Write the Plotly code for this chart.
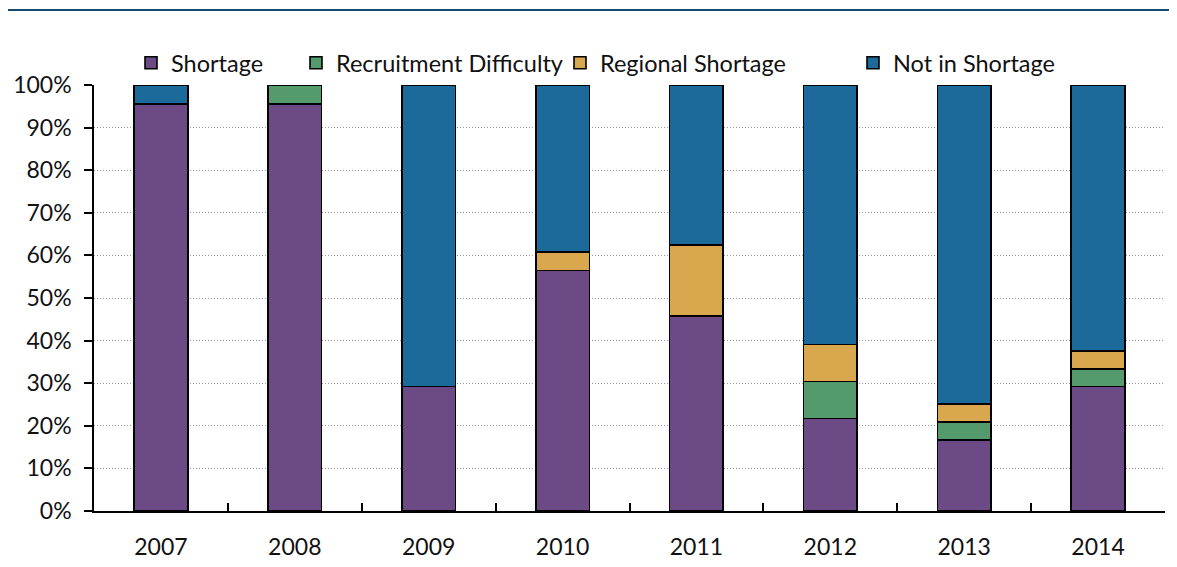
import plotly.graph_objects as go

years = ["2007", "2008", "2009", "2010", "2011", "2012", "2013", "2014"]
shortage = [95.5, 95.5, 29.2, 56.5, 45.8, 21.7, 16.7, 29.2]
recruitment = [0.0, 4.5, 0.0, 0.0, 0.0, 8.7, 4.2, 4.2]
regional = [0.0, 0.0, 0.0, 4.3, 16.7, 8.7, 4.2, 4.2]
not_short = [4.5, 0.0, 70.8, 39.2, 37.5, 60.9, 74.9, 62.4]

series_names = ["Shortage", "Recruitment Difficulty", "Regional Shortage", "Not in Shortage"]
series_values = [shortage, recruitment, regional, not_short]
series_colors = ["#6B4A85", "#549A6C", "#D9A84E", "#1B6A9A"]

# page body has an 8px margin, so the figure is sized to fit the window
W, H = 1169, 559
L, R, T, B = 86, 12, 77, 56
ph = H - T - B
pw = W - L - R

legend_ids = ["legend", "legend2", "legend3", "legend4"]
legend_left_px = [123, 288, 552, 845]

fig = go.Figure()
for name, vals, col, lid in zip(series_names, series_values, series_colors, legend_ids):
    fig.add_trace(go.Bar(
        x=years, y=[v / 100 for v in vals], name=name, legend=lid,
        marker=dict(color=col, line=dict(color="#000000", width=1.6)),
    ))

legend_y = (H - B - 55) / ph
legend_kw = {}
for lid, lx in zip(legend_ids, legend_left_px):
    legend_kw[lid] = dict(orientation="h", x=(lx - L) / pw, xanchor="left",
                          y=legend_y, yanchor="middle", font=dict(size=23.5, color="#111111"),
                          itemwidth=30, bgcolor="rgba(0,0,0,0)", borderwidth=0)

fig.update_layout(
    width=W, height=H,
    barmode="stack", bargap=0.6,
    margin=dict(l=L, r=R, t=T, b=B, autoexpand=False),
    plot_bgcolor="white", paper_bgcolor="white",
    font=dict(family="Lato, Open Sans, sans-serif", size=23, color="#111111"),
    showlegend=True,
    xaxis=dict(type="category", showline=True, linecolor="#000000", linewidth=1.5,
               ticks="inside", tickson="boundaries", ticklen=8, tickcolor="#000000",
               tickwidth=1.5, showgrid=False, tickfont=dict(size=23),
               ticklabelstandoff=15, automargin=False),
    yaxis=dict(range=[0, 1], tickformat=".0%", dtick=0.1, showline=True,
               linecolor="#000000", linewidth=1.5, ticks="outside", ticklen=8,
               tickcolor="#000000", tickwidth=1.5, showgrid=True, gridcolor="#9A9A9A",
               griddash="1px,2px", gridwidth=1, zeroline=False, tickfont=dict(size=23),
               ticklabelstandoff=8, automargin=False),
    shapes=[dict(type="line", xref="paper", yref="paper",
                 x0=-L / pw, x1=(W - L) / pw,
                 y0=(H - B - 2) / ph, y1=(H - B - 2) / ph,
                 line=dict(color="#1A4A72", width=2))],
    **legend_kw,
)

fig.write_html("out.html")
